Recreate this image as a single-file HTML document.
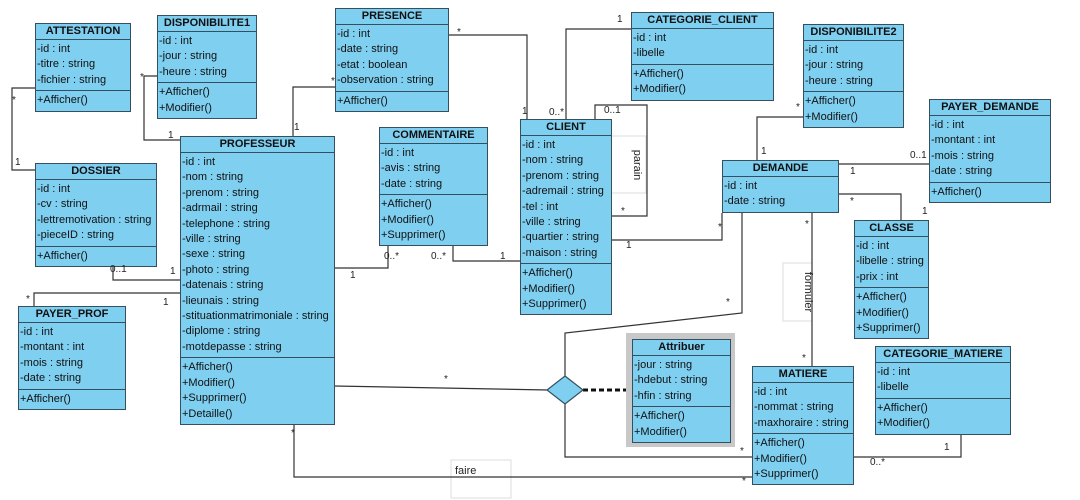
<!DOCTYPE html>
<html><head><meta charset="utf-8"><style>
body{margin:0;width:1080px;height:500px;background:#fff;position:relative;overflow:hidden;font-family:"Liberation Sans",Arial,sans-serif;}
.b{position:absolute;background:#7fcff1;border:1px solid #34505e;font-size:11px;color:#111;box-sizing:border-box;}
.t{font-weight:bold;text-align:center;height:15px;line-height:15px;border-bottom:1px solid #34505e;font-size:11px;}
.s{padding:2px 0 2px 1px;line-height:15.4px;white-space:nowrap;}
.s+.s{border-top:1px solid #34505e;}
svg{position:absolute;left:0;top:0;}
.l{position:absolute;font-size:10px;color:#222;}
</style></head><body>
<svg width="1080" height="500">
<rect x="610" y="136" width="36" height="57" fill="#fff" stroke="#ddd"/>
<rect x="783" y="263" width="29" height="58" fill="#fff" stroke="#ddd"/>
<rect x="451" y="460" width="60" height="38" fill="#fff" stroke="#ddd"/>
<g fill="none" stroke="#333" stroke-width="1.2">
<polyline points="35,88 12,88 12,170 35,170"/>
<polyline points="157,76 144,76 144,140 180,140"/>
<polyline points="335,87 293,87 293,136"/>
<polyline points="448,35 527,35 527,119"/>
<polyline points="631,29 566,29 566,119"/>
<polyline points="595,119 595,105 647,105 647,216 611,216"/>
<polyline points="611,240 722,240 722,213"/>
<polyline points="334,268 388,268 388,246"/>
<polyline points="453,246 453,261 520,261"/>
<polyline points="113,267 113,280 180,280"/>
<polyline points="34,306 34,293 180,293"/>
<polyline points="803,117 757,117 757,160"/>
<polyline points="838,164 929,164"/>
<polyline points="838,194 901,194 901,220"/>
<polyline points="812,213 812,366"/>
<polyline points="742,213 742,313 565,333 565,377"/>
<polyline points="334,386 548,390"/>
<polyline points="565,404 565,457 752,457"/>
<polyline points="294,423 294,477 752,477"/>
<polyline points="853,457 961,457 961,434"/>
</g>
<line x1="583" y1="390" x2="632" y2="390" stroke="#111" stroke-width="3" stroke-dasharray="5,3"/>
<polygon points="565,376 583,390 565,404 547,390" fill="#7fcff1" stroke="#34505e" stroke-width="1.2"/>
<rect x="626" y="333" width="109" height="114" fill="#c8c8c8"/>
<text x="634" y="165" transform="rotate(90 634 165)" font-size="11" font-family="Liberation Sans" fill="#222" text-anchor="middle">parain</text>
<text x="805" y="292" transform="rotate(90 805 292)" font-size="11" font-family="Liberation Sans" fill="#222" text-anchor="middle">formuler</text>
<text x="455" y="474" font-size="11" font-family="Liberation Sans" fill="#222">faire</text>
</svg>

<div class="b" style="left:35px;top:23px;width:96px"><div class="t">ATTESTATION</div><div class="s">-id : int<br>-titre : string<br>-fichier : string</div><div class="s">+Afficher()</div></div>
<div class="b" style="left:157px;top:15px;width:100px"><div class="t">DISPONIBILITE1</div><div class="s">-id : int<br>-jour : string<br>-heure : string</div><div class="s">+Afficher()<br>+Modifier()</div></div>
<div class="b" style="left:335px;top:8px;width:114px"><div class="t">PRESENCE</div><div class="s">-id : int<br>-date : string<br>-etat : boolean<br>-observation : string</div><div class="s">+Afficher()</div></div>
<div class="b" style="left:631px;top:12px;width:143px"><div class="t">CATEGORIE_CLIENT</div><div class="s">-id : int<br>-libelle</div><div class="s">+Afficher()<br>+Modifier()</div></div>
<div class="b" style="left:803px;top:24px;width:101px"><div class="t">DISPONIBILITE2</div><div class="s">-id : int<br>-jour : string<br>-heure : string</div><div class="s">+Afficher()<br>+Modifier()</div></div>
<div class="b" style="left:929px;top:99px;width:122px"><div class="t">PAYER_DEMANDE</div><div class="s">-id : int<br>-montant : int<br>-mois : string<br>-date : string</div><div class="s">+Afficher()</div></div>
<div class="b" style="left:520px;top:119px;width:92px"><div class="t">CLIENT</div><div class="s">-id : int<br>-nom : string<br>-prenom : string<br>-adremail : string<br>-tel : int<br>-ville : string<br>-quartier : string<br>-maison : string</div><div class="s">+Afficher()<br>+Modifier()<br>+Supprimer()</div></div>
<div class="b" style="left:379px;top:127px;width:109px"><div class="t">COMMENTAIRE</div><div class="s">-id : int<br>-avis : string<br>-date : string</div><div class="s">+Afficher()<br>+Modifier()<br>+Supprimer()</div></div>
<div class="b" style="left:180px;top:136px;width:155px"><div class="t">PROFESSEUR</div><div class="s">-id : int<br>-nom : string<br>-prenom : string<br>-adrmail : string<br>-telephone : string<br>-ville : string<br>-sexe : string<br>-photo : string<br>-datenais : string<br>-lieunais : string<br>-stituationmatrimoniale : string<br>-diplome : string<br>-motdepasse : string</div><div class="s">+Afficher()<br>+Modifier()<br>+Supprimer()<br>+Detaille()</div></div>
<div class="b" style="left:35px;top:163px;width:122px"><div class="t">DOSSIER</div><div class="s">-id : int<br>-cv : string<br>-lettremotivation : string<br>-pieceID : string</div><div class="s">+Afficher()</div></div>
<div class="b" style="left:722px;top:160px;width:117px"><div class="t">DEMANDE</div><div class="s">-id : int<br>-date : string</div></div>
<div class="b" style="left:854px;top:220px;width:75px"><div class="t">CLASSE</div><div class="s">-id : int<br>-libelle : string<br>-prix : int</div><div class="s">+Afficher()<br>+Modifier()<br>+Supprimer()</div></div>
<div class="b" style="left:18px;top:306px;width:108px"><div class="t">PAYER_PROF</div><div class="s">-id : int<br>-montant : int<br>-mois : string<br>-date : string</div><div class="s">+Afficher()</div></div>
<div class="b" style="left:632px;top:339px;width:99px"><div class="t">Attribuer</div><div class="s">-jour : string<br>-hdebut : string<br>-hfin : string</div><div class="s">+Afficher()<br>+Modifier()</div></div>
<div class="b" style="left:752px;top:366px;width:102px"><div class="t">MATIERE</div><div class="s">-id : int<br>-nommat : string<br>-maxhoraire : string</div><div class="s">+Afficher()<br>+Modifier()<br>+Supprimer()</div></div>
<div class="b" style="left:875px;top:346px;width:136px"><div class="t">CATEGORIE_MATIERE</div><div class="s">-id : int<br>-libelle</div><div class="s">+Afficher()<br>+Modifier()</div></div>

<div class="l" style="left:12px;top:95px">*</div>
<div class="l" style="left:15px;top:157px">1</div>
<div class="l" style="left:140px;top:72px">*</div>
<div class="l" style="left:168px;top:130px">1</div>
<div class="l" style="left:331px;top:76px">*</div>
<div class="l" style="left:294px;top:122px">1</div>
<div class="l" style="left:457px;top:27px">*</div>
<div class="l" style="left:522px;top:106px">1</div>
<div class="l" style="left:617px;top:14px">1</div>
<div class="l" style="left:549px;top:107px">0..*</div>
<div class="l" style="left:604px;top:105px">0..1</div>
<div class="l" style="left:621px;top:206px">*</div>
<div class="l" style="left:626px;top:240px">1</div>
<div class="l" style="left:718px;top:222px">*</div>
<div class="l" style="left:384px;top:251px">0..*</div>
<div class="l" style="left:350px;top:270px">1</div>
<div class="l" style="left:431px;top:251px">0..*</div>
<div class="l" style="left:500px;top:251px">1</div>
<div class="l" style="left:110px;top:264px">0..1</div>
<div class="l" style="left:170px;top:266px">1</div>
<div class="l" style="left:26px;top:294px">*</div>
<div class="l" style="left:163px;top:297px">1</div>
<div class="l" style="left:796px;top:102px">*</div>
<div class="l" style="left:761px;top:146px">1</div>
<div class="l" style="left:910px;top:150px">0..1</div>
<div class="l" style="left:850px;top:166px">1</div>
<div class="l" style="left:850px;top:196px">*</div>
<div class="l" style="left:922px;top:206px">1</div>
<div class="l" style="left:805px;top:219px">*</div>
<div class="l" style="left:802px;top:353px">*</div>
<div class="l" style="left:726px;top:297px">*</div>
<div class="l" style="left:444px;top:374px">*</div>
<div class="l" style="left:740px;top:446px">*</div>
<div class="l" style="left:291px;top:428px">*</div>
<div class="l" style="left:742px;top:476px">*</div>
<div class="l" style="left:870px;top:457px">0..*</div>
<div class="l" style="left:944px;top:442px">1</div>
</body></html>
